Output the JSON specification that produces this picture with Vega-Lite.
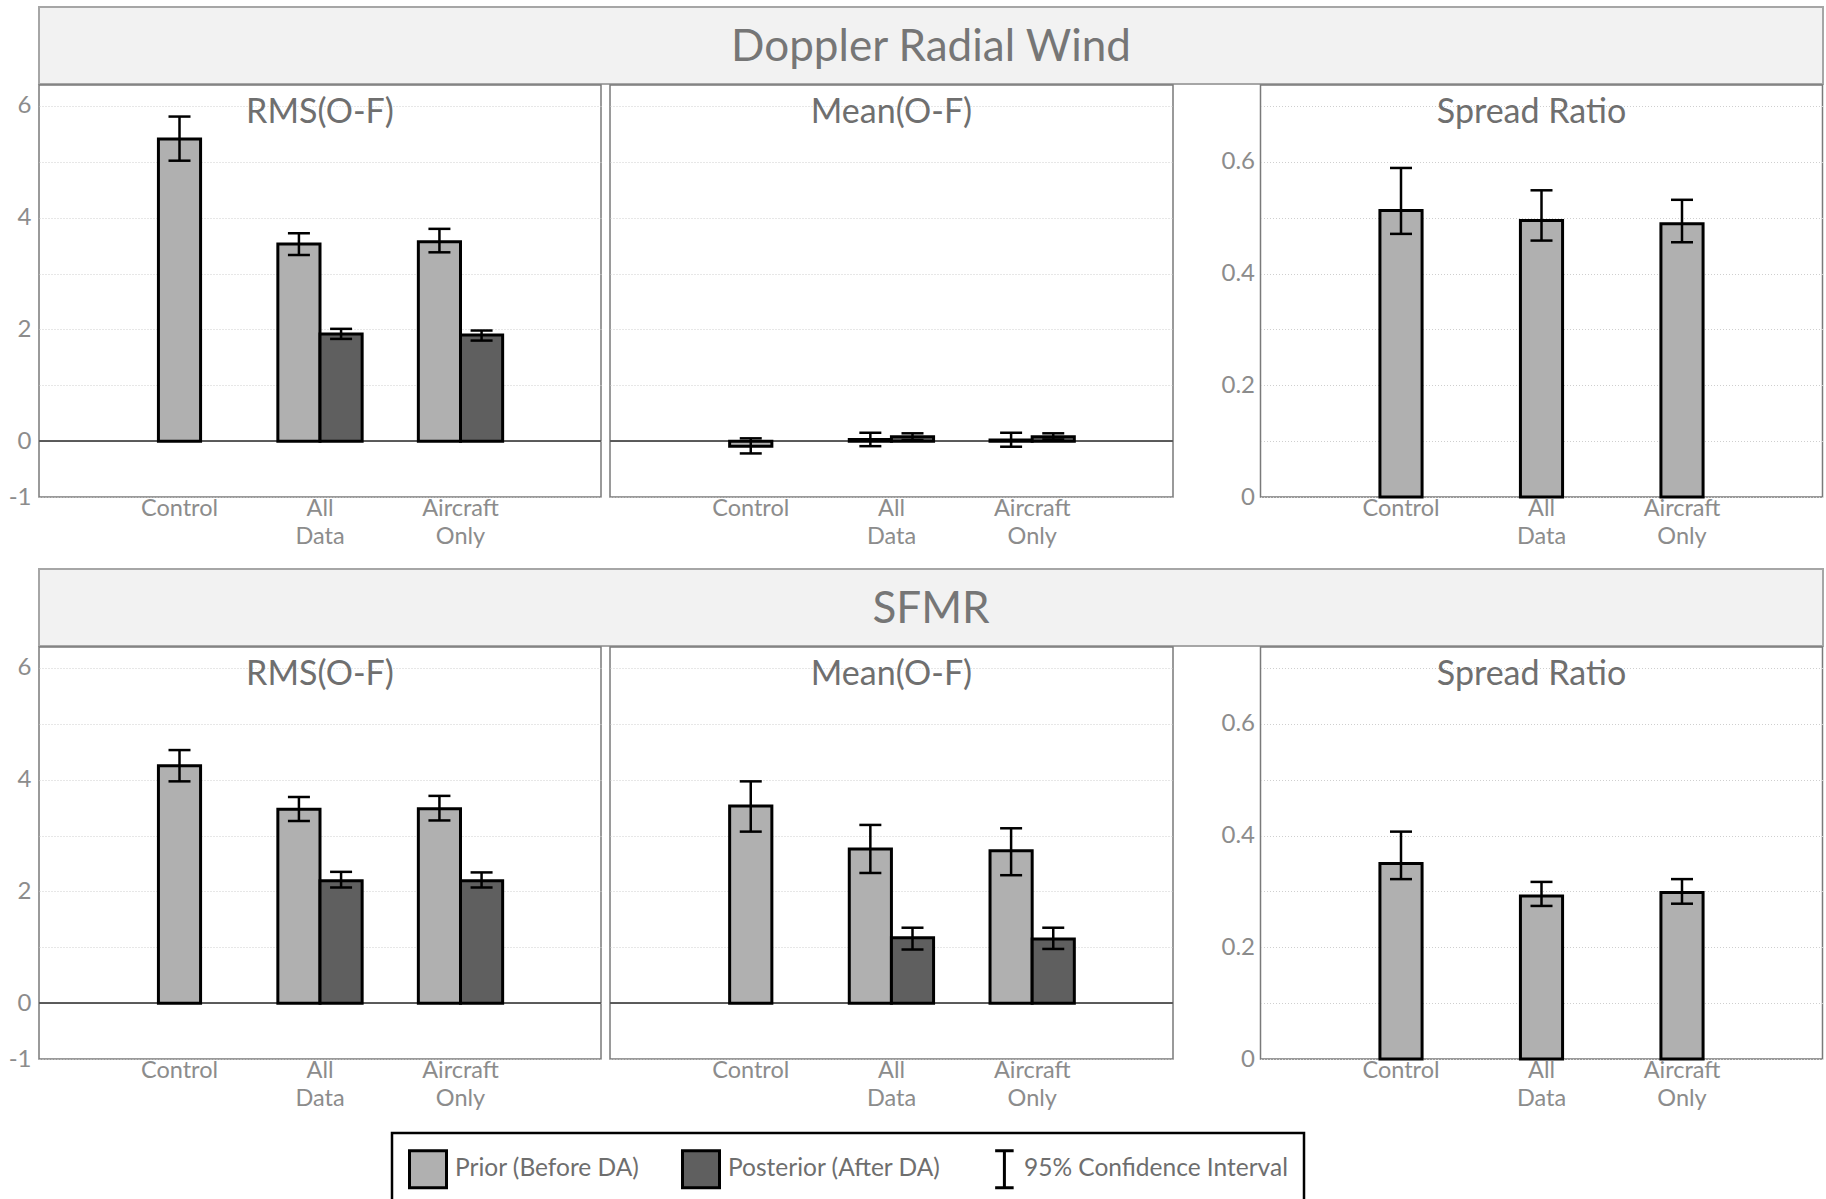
{
  "$schema": "https://vega.github.io/schema/vega-lite/v6.json",
  "padding": {"left": 4, "top": 6, "right": 0, "bottom": 0},
  "spacing": 10,
  "datasets": {
    "stats": [
      {"obs": "Doppler Radial Wind", "metric": "RMS(O-F)", "exp": "Control", "state": "Prior (Before DA)", "value": 5.41, "lo": 5.02, "hi": 5.81},
      {"obs": "Doppler Radial Wind", "metric": "RMS(O-F)", "exp": "All Data", "state": "Prior (Before DA)", "value": 3.53, "lo": 3.33, "hi": 3.72},
      {"obs": "Doppler Radial Wind", "metric": "RMS(O-F)", "exp": "All Data", "state": "Posterior (After DA)", "value": 1.92, "lo": 1.83, "hi": 2.01},
      {"obs": "Doppler Radial Wind", "metric": "RMS(O-F)", "exp": "Aircraft Only", "state": "Prior (Before DA)", "value": 3.57, "lo": 3.38, "hi": 3.80},
      {"obs": "Doppler Radial Wind", "metric": "RMS(O-F)", "exp": "Aircraft Only", "state": "Posterior (After DA)", "value": 1.90, "lo": 1.80, "hi": 1.98},
      {"obs": "Doppler Radial Wind", "metric": "Mean(O-F)", "exp": "Control", "state": "Prior (Before DA)", "value": -0.09, "lo": -0.22, "hi": 0.05},
      {"obs": "Doppler Radial Wind", "metric": "Mean(O-F)", "exp": "All Data", "state": "Prior (Before DA)", "value": 0.03, "lo": -0.09, "hi": 0.15},
      {"obs": "Doppler Radial Wind", "metric": "Mean(O-F)", "exp": "All Data", "state": "Posterior (After DA)", "value": 0.08, "lo": 0.02, "hi": 0.14},
      {"obs": "Doppler Radial Wind", "metric": "Mean(O-F)", "exp": "Aircraft Only", "state": "Prior (Before DA)", "value": 0.02, "lo": -0.10, "hi": 0.15},
      {"obs": "Doppler Radial Wind", "metric": "Mean(O-F)", "exp": "Aircraft Only", "state": "Posterior (After DA)", "value": 0.08, "lo": 0.03, "hi": 0.14},
      {"obs": "Doppler Radial Wind", "metric": "Spread Ratio", "exp": "Control", "state": "Prior (Before DA)", "value": 0.513, "lo": 0.471, "hi": 0.589},
      {"obs": "Doppler Radial Wind", "metric": "Spread Ratio", "exp": "All Data", "state": "Prior (Before DA)", "value": 0.495, "lo": 0.459, "hi": 0.549},
      {"obs": "Doppler Radial Wind", "metric": "Spread Ratio", "exp": "Aircraft Only", "state": "Prior (Before DA)", "value": 0.489, "lo": 0.456, "hi": 0.532},
      {"obs": "SFMR", "metric": "RMS(O-F)", "exp": "Control", "state": "Prior (Before DA)", "value": 4.25, "lo": 3.97, "hi": 4.53},
      {"obs": "SFMR", "metric": "RMS(O-F)", "exp": "All Data", "state": "Prior (Before DA)", "value": 3.47, "lo": 3.26, "hi": 3.69},
      {"obs": "SFMR", "metric": "RMS(O-F)", "exp": "All Data", "state": "Posterior (After DA)", "value": 2.19, "lo": 2.07, "hi": 2.35},
      {"obs": "SFMR", "metric": "RMS(O-F)", "exp": "Aircraft Only", "state": "Prior (Before DA)", "value": 3.48, "lo": 3.27, "hi": 3.71},
      {"obs": "SFMR", "metric": "RMS(O-F)", "exp": "Aircraft Only", "state": "Posterior (After DA)", "value": 2.19, "lo": 2.07, "hi": 2.34},
      {"obs": "SFMR", "metric": "Mean(O-F)", "exp": "Control", "state": "Prior (Before DA)", "value": 3.53, "lo": 3.07, "hi": 3.97},
      {"obs": "SFMR", "metric": "Mean(O-F)", "exp": "All Data", "state": "Prior (Before DA)", "value": 2.76, "lo": 2.33, "hi": 3.19},
      {"obs": "SFMR", "metric": "Mean(O-F)", "exp": "All Data", "state": "Posterior (After DA)", "value": 1.17, "lo": 0.96, "hi": 1.35},
      {"obs": "SFMR", "metric": "Mean(O-F)", "exp": "Aircraft Only", "state": "Prior (Before DA)", "value": 2.73, "lo": 2.29, "hi": 3.13},
      {"obs": "SFMR", "metric": "Mean(O-F)", "exp": "Aircraft Only", "state": "Posterior (After DA)", "value": 1.15, "lo": 0.97, "hi": 1.35},
      {"obs": "SFMR", "metric": "Spread Ratio", "exp": "Control", "state": "Prior (Before DA)", "value": 0.350, "lo": 0.322, "hi": 0.407},
      {"obs": "SFMR", "metric": "Spread Ratio", "exp": "All Data", "state": "Prior (Before DA)", "value": 0.292, "lo": 0.274, "hi": 0.317},
      {"obs": "SFMR", "metric": "Spread Ratio", "exp": "Aircraft Only", "state": "Prior (Before DA)", "value": 0.298, "lo": 0.278, "hi": 0.322}
    ]
  },
  "vconcat": [
    {
      "spacing": -1,
      "vconcat": [
        {
          "width": 1784, "height": 77,
          "view": {"fill": "#f2f2f2", "stroke": "#a6a6a6", "strokeWidth": 2},
          "data": {"values": [{"obs": "Doppler Radial Wind"}]},
          "layer": [
            {"mark": {"type": "rule", "opacity": 0},
             "encoding": {"y": {"datum": 0, "type": "quantitative", "title": null,
               "axis": {"labels": false, "grid": false, "domain": true, "domainOpacity": 0, "minExtent": 34, "maxExtent": 34}}}},
            {"mark": {"type": "text", "font": "Lato", "fontSize": 44, "color": "#767676", "baseline": "middle", "dy": 2},
             "encoding": {"text": {"field": "obs"}}}
          ]
        },
        {
          "spacing": 34.5,
          "hconcat": [
            {
              "spacing": 5,
              "hconcat": [
                {
                  "width": 562, "height": 412,
                  "view": {"stroke": "#7a7a7a", "strokeWidth": 1.5},
                  "title": "RMS(O-F)",
                  "data": {"name": "stats"},
                  "transform": [{"filter": "datum.obs === 'Doppler Radial Wind' && datum.metric === 'RMS(O-F)'"}],
                  "layer": [
                    {"mark": {"type": "rule", "color": "#595959", "strokeWidth": 1.5},
                     "encoding": {"y": {"datum": 0, "type": "quantitative", "title": null, "scale": {"domain": [-1, 6.375], "nice": false, "zero": false},
                       "axis": {"values": [-1, 0, 1, 2, 3, 4, 5, 6], "labelExpr": "datum.value === -1 ? '-1' : (datum.value % 2 === 0 ? format(datum.value, 'd') : '')", "grid": true, "labelPadding": 8, "labelOverlap": false, "minExtent": 34, "maxExtent": 34}}}},
                    {"transform": [{"filter": "datum.exp !== 'Control'"}],
                     "mark": {"type": "bar", "stroke": "black", "strokeWidth": 3},
                     "encoding": {
                       "x": {"field": "exp", "type": "nominal", "title": null, "scale": {"domain": ["Control", "All Data", "Aircraft Only"], "paddingInner": 0.4, "paddingOuter": 0.7},
                         "axis": {"labelExpr": "split(datum.label, ' ')", "labelFontSize": 23.5, "labelLineHeight": 28.5, "labelPadding": -1, "labelAngle": 0, "labelOverlap": false, "minExtent": 60, "maxExtent": 60}},
                       "xOffset": {"field": "state", "type": "nominal", "scale": {"domain": ["Prior (Before DA)", "Posterior (After DA)"]}},
                       "y": {"field": "value", "type": "quantitative", "stack": null, "title": null, "scale": {"domain": [-1, 6.375], "nice": false, "zero": false}},
                       "fill": {"field": "state", "type": "nominal", "title": null,
                         "scale": {"domain": ["Prior (Before DA)", "Posterior (After DA)", "95% Confidence Interval"], "range": ["#b0b0b0", "#5f5f5f", "transparent"]},
                         "legend": {"orient": "none", "legendX": 353, "legendY": 1126, "direction": "horizontal", "title": null,
                           "strokeColor": "black", "padding": 16,
                           "symbolType": "square", "symbolSize": 1369, "symbolStrokeColor": "black", "symbolStrokeWidth": 3, "symbolOpacity": 1,
                           "labelFont": "Lato", "labelFontSize": 24.5, "labelColor": "#6e6e6e", "labelOffset": 7, "columnPadding": 36, "labelLimit": 500,
                           "encode": {
                             "legend": {"update": {"strokeWidth": {"value": 2.5}}},
                             "symbols": {"update": {"shape": {"signal": "datum.value === '95% Confidence Interval' ? 'M-0.1,-1H0.9M0.4,-1V1M-0.1,1H0.9' : 'square'"}}}}}}
                     }},
                    {"transform": [{"filter": "datum.exp === 'Control'"}],
                     "mark": {"type": "bar", "stroke": "black", "strokeWidth": 3, "width": {"band": 0.5}},
                     "encoding": {
                       "x": {"field": "exp", "type": "nominal", "title": null, "scale": {"domain": ["Control", "All Data", "Aircraft Only"], "paddingInner": 0.4, "paddingOuter": 0.7}},
                       "y": {"field": "value", "type": "quantitative", "stack": null, "title": null, "scale": {"domain": [-1, 6.375], "nice": false, "zero": false}},
                       "fill": {"field": "state", "type": "nominal", "title": null, "legend": null,
                         "scale": {"domain": ["Prior (Before DA)", "Posterior (After DA)", "95% Confidence Interval"], "range": ["#b0b0b0", "#5f5f5f", "transparent"]}}
                     }},
                    {"transform": [{"filter": "datum.exp !== 'Control'"}],
                     "mark": {"type": "rule", "color": "black", "strokeWidth": 2.5},
                     "encoding": {
                       "x": {"field": "exp", "type": "nominal", "title": null, "scale": {"domain": ["Control", "All Data", "Aircraft Only"], "paddingInner": 0.4, "paddingOuter": 0.7}},
                       "xOffset": {"field": "state", "type": "nominal", "scale": {"domain": ["Prior (Before DA)", "Posterior (After DA)"]}},
                       "y": {"field": "lo", "type": "quantitative", "title": null, "scale": {"domain": [-1, 6.375], "nice": false, "zero": false}},
                       "y2": {"field": "hi"}
                     }},
                    {"transform": [{"filter": "datum.exp === 'Control'"}],
                     "mark": {"type": "rule", "color": "black", "strokeWidth": 2.5},
                     "encoding": {
                       "x": {"field": "exp", "type": "nominal", "title": null, "scale": {"domain": ["Control", "All Data", "Aircraft Only"], "paddingInner": 0.4, "paddingOuter": 0.7}},
                       "y": {"field": "lo", "type": "quantitative", "title": null, "scale": {"domain": [-1, 6.375], "nice": false, "zero": false}},
                       "y2": {"field": "hi"}
                     }},
                    {"transform": [{"filter": "datum.exp !== 'Control'"}, {"fold": ["lo", "hi"], "as": ["end", "ci"]}],
                     "mark": {"type": "tick", "color": "black", "thickness": 2.5, "size": 22, "opacity": 1},
                     "encoding": {
                       "x": {"field": "exp", "type": "nominal", "title": null, "scale": {"domain": ["Control", "All Data", "Aircraft Only"], "paddingInner": 0.4, "paddingOuter": 0.7}},
                       "xOffset": {"field": "state", "type": "nominal", "scale": {"domain": ["Prior (Before DA)", "Posterior (After DA)"]}},
                       "y": {"field": "ci", "type": "quantitative", "title": null, "scale": {"domain": [-1, 6.375], "nice": false, "zero": false}}
                     }},
                    {"transform": [{"filter": "datum.exp === 'Control'"}, {"fold": ["lo", "hi"], "as": ["end", "ci"]}],
                     "mark": {"type": "tick", "color": "black", "thickness": 2.5, "size": 22, "opacity": 1},
                     "encoding": {
                       "x": {"field": "exp", "type": "nominal", "title": null, "scale": {"domain": ["Control", "All Data", "Aircraft Only"], "paddingInner": 0.4, "paddingOuter": 0.7}},
                       "y": {"field": "ci", "type": "quantitative", "title": null, "scale": {"domain": [-1, 6.375], "nice": false, "zero": false}}
                     }}
                  ]
                },
                {
                  "width": 563, "height": 412,
                  "view": {"stroke": "#7a7a7a", "strokeWidth": 1.5},
                  "title": "Mean(O-F)",
                  "data": {"name": "stats"},
                  "transform": [{"filter": "datum.obs === 'Doppler Radial Wind' && datum.metric === 'Mean(O-F)'"}],
                  "layer": [
                    {"mark": {"type": "rule", "color": "#595959", "strokeWidth": 1.5},
                     "encoding": {"y": {"datum": 0, "type": "quantitative", "title": null, "scale": {"domain": [-1, 6.375], "nice": false, "zero": false},
                       "axis": {"values": [-1, 0, 1, 2, 3, 4, 5, 6], "labels": false, "grid": true, "minExtent": 0, "maxExtent": 0}}}},
                    {"transform": [{"filter": "datum.exp !== 'Control'"}],
                     "mark": {"type": "bar", "stroke": "black", "strokeWidth": 3},
                     "encoding": {
                       "x": {"field": "exp", "type": "nominal", "title": null, "scale": {"domain": ["Control", "All Data", "Aircraft Only"], "paddingInner": 0.4, "paddingOuter": 0.7},
                         "axis": {"labelExpr": "split(datum.label, ' ')", "labelFontSize": 23.5, "labelLineHeight": 28.5, "labelPadding": -1, "labelAngle": 0, "labelOverlap": false, "minExtent": 60, "maxExtent": 60}},
                       "xOffset": {"field": "state", "type": "nominal", "scale": {"domain": ["Prior (Before DA)", "Posterior (After DA)"]}},
                       "y": {"field": "value", "type": "quantitative", "stack": null, "title": null, "scale": {"domain": [-1, 6.375], "nice": false, "zero": false}},
                       "fill": {"field": "state", "type": "nominal", "title": null, "legend": null,
                         "scale": {"domain": ["Prior (Before DA)", "Posterior (After DA)", "95% Confidence Interval"], "range": ["#b0b0b0", "#5f5f5f", "transparent"]}}
                     }},
                    {"transform": [{"filter": "datum.exp === 'Control'"}],
                     "mark": {"type": "bar", "stroke": "black", "strokeWidth": 3, "width": {"band": 0.5}},
                     "encoding": {
                       "x": {"field": "exp", "type": "nominal", "title": null, "scale": {"domain": ["Control", "All Data", "Aircraft Only"], "paddingInner": 0.4, "paddingOuter": 0.7}},
                       "y": {"field": "value", "type": "quantitative", "stack": null, "title": null, "scale": {"domain": [-1, 6.375], "nice": false, "zero": false}},
                       "fill": {"field": "state", "type": "nominal", "title": null, "legend": null,
                         "scale": {"domain": ["Prior (Before DA)", "Posterior (After DA)", "95% Confidence Interval"], "range": ["#b0b0b0", "#5f5f5f", "transparent"]}}
                     }},
                    {"transform": [{"filter": "datum.exp !== 'Control'"}],
                     "mark": {"type": "rule", "color": "black", "strokeWidth": 2.5},
                     "encoding": {
                       "x": {"field": "exp", "type": "nominal", "title": null, "scale": {"domain": ["Control", "All Data", "Aircraft Only"], "paddingInner": 0.4, "paddingOuter": 0.7}},
                       "xOffset": {"field": "state", "type": "nominal", "scale": {"domain": ["Prior (Before DA)", "Posterior (After DA)"]}},
                       "y": {"field": "lo", "type": "quantitative", "title": null, "scale": {"domain": [-1, 6.375], "nice": false, "zero": false}},
                       "y2": {"field": "hi"}
                     }},
                    {"transform": [{"filter": "datum.exp === 'Control'"}],
                     "mark": {"type": "rule", "color": "black", "strokeWidth": 2.5},
                     "encoding": {
                       "x": {"field": "exp", "type": "nominal", "title": null, "scale": {"domain": ["Control", "All Data", "Aircraft Only"], "paddingInner": 0.4, "paddingOuter": 0.7}},
                       "y": {"field": "lo", "type": "quantitative", "title": null, "scale": {"domain": [-1, 6.375], "nice": false, "zero": false}},
                       "y2": {"field": "hi"}
                     }},
                    {"transform": [{"filter": "datum.exp !== 'Control'"}, {"fold": ["lo", "hi"], "as": ["end", "ci"]}],
                     "mark": {"type": "tick", "color": "black", "thickness": 2.5, "size": 22, "opacity": 1},
                     "encoding": {
                       "x": {"field": "exp", "type": "nominal", "title": null, "scale": {"domain": ["Control", "All Data", "Aircraft Only"], "paddingInner": 0.4, "paddingOuter": 0.7}},
                       "xOffset": {"field": "state", "type": "nominal", "scale": {"domain": ["Prior (Before DA)", "Posterior (After DA)"]}},
                       "y": {"field": "ci", "type": "quantitative", "title": null, "scale": {"domain": [-1, 6.375], "nice": false, "zero": false}}
                     }},
                    {"transform": [{"filter": "datum.exp === 'Control'"}, {"fold": ["lo", "hi"], "as": ["end", "ci"]}],
                     "mark": {"type": "tick", "color": "black", "thickness": 2.5, "size": 22, "opacity": 1},
                     "encoding": {
                       "x": {"field": "exp", "type": "nominal", "title": null, "scale": {"domain": ["Control", "All Data", "Aircraft Only"], "paddingInner": 0.4, "paddingOuter": 0.7}},
                       "y": {"field": "ci", "type": "quantitative", "title": null, "scale": {"domain": [-1, 6.375], "nice": false, "zero": false}}
                     }}
                  ]
                }
              ]
            },
            {
              "width": 562, "height": 412,
              "view": {"stroke": "#7a7a7a", "strokeWidth": 1.5},
              "title": {"text": "Spread Ratio", "dx": -10},
              "data": {"name": "stats"},
              "transform": [{"filter": "datum.obs === 'Doppler Radial Wind' && datum.metric === 'Spread Ratio'"}],
              "layer": [
                {"mark": {"type": "bar", "stroke": "black", "strokeWidth": 3, "width": {"band": 0.5}},
                 "encoding": {
                   "x": {"field": "exp", "type": "nominal", "title": null, "scale": {"domain": ["Control", "All Data", "Aircraft Only"], "paddingInner": 0.4, "paddingOuter": 0.7},
                     "axis": {"labelExpr": "split(datum.label, ' ')", "labelFontSize": 23.5, "labelLineHeight": 28.5, "labelPadding": -1, "labelAngle": 0, "labelOverlap": false, "minExtent": 60, "maxExtent": 60}},
                   "y": {"field": "value", "type": "quantitative", "stack": null, "title": null, "scale": {"domain": [0, 0.7375], "nice": false, "zero": false},
                     "axis": {"values": [0, 0.1, 0.2, 0.3, 0.4, 0.5, 0.6, 0.7], "format": "~g", "labelExpr": "(round(datum.value * 10) % 2 === 0) ? datum.label : ''", "grid": true, "labelPadding": 6, "labelOverlap": false, "minExtent": 50, "maxExtent": 50}},
                   "fill": {"field": "state", "type": "nominal", "title": null, "legend": null,
                     "scale": {"domain": ["Prior (Before DA)", "Posterior (After DA)", "95% Confidence Interval"], "range": ["#b0b0b0", "#5f5f5f", "transparent"]}}
                 }},
                {"mark": {"type": "rule", "color": "black", "strokeWidth": 2.5},
                 "encoding": {
                   "x": {"field": "exp", "type": "nominal", "title": null, "scale": {"domain": ["Control", "All Data", "Aircraft Only"], "paddingInner": 0.4, "paddingOuter": 0.7}},
                   "y": {"field": "lo", "type": "quantitative", "title": null, "scale": {"domain": [0, 0.7375], "nice": false, "zero": false}},
                   "y2": {"field": "hi"}
                 }},
                {"transform": [{"fold": ["lo", "hi"], "as": ["end", "ci"]}],
                 "mark": {"type": "tick", "color": "black", "thickness": 2.5, "size": 22, "opacity": 1},
                 "encoding": {
                   "x": {"field": "exp", "type": "nominal", "title": null, "scale": {"domain": ["Control", "All Data", "Aircraft Only"], "paddingInner": 0.4, "paddingOuter": 0.7}},
                   "y": {"field": "ci", "type": "quantitative", "title": null, "scale": {"domain": [0, 0.7375], "nice": false, "zero": false}}
                 }}
              ]
            }
          ]
        }
      ]
    },
    {
      "spacing": -1,
      "vconcat": [
        {
          "width": 1784, "height": 77,
          "view": {"fill": "#f2f2f2", "stroke": "#a6a6a6", "strokeWidth": 2},
          "data": {"values": [{"obs": "SFMR"}]},
          "layer": [
            {"mark": {"type": "rule", "opacity": 0},
             "encoding": {"y": {"datum": 0, "type": "quantitative", "title": null,
               "axis": {"labels": false, "grid": false, "domain": true, "domainOpacity": 0, "minExtent": 34, "maxExtent": 34}}}},
            {"mark": {"type": "text", "font": "Lato", "fontSize": 44, "color": "#767676", "baseline": "middle", "dy": 2},
             "encoding": {"text": {"field": "obs"}}}
          ]
        },
        {
          "spacing": 34.5,
          "hconcat": [
            {
              "spacing": 5,
              "hconcat": [
                {
                  "width": 562, "height": 412,
                  "view": {"stroke": "#7a7a7a", "strokeWidth": 1.5},
                  "title": "RMS(O-F)",
                  "data": {"name": "stats"},
                  "transform": [{"filter": "datum.obs === 'SFMR' && datum.metric === 'RMS(O-F)'"}],
                  "layer": [
                    {"mark": {"type": "rule", "color": "#595959", "strokeWidth": 1.5},
                     "encoding": {"y": {"datum": 0, "type": "quantitative", "title": null, "scale": {"domain": [-1, 6.375], "nice": false, "zero": false},
                       "axis": {"values": [-1, 0, 1, 2, 3, 4, 5, 6], "labelExpr": "datum.value === -1 ? '-1' : (datum.value % 2 === 0 ? format(datum.value, 'd') : '')", "grid": true, "labelPadding": 8, "labelOverlap": false, "minExtent": 34, "maxExtent": 34}}}},
                    {"transform": [{"filter": "datum.exp !== 'Control'"}],
                     "mark": {"type": "bar", "stroke": "black", "strokeWidth": 3},
                     "encoding": {
                       "x": {"field": "exp", "type": "nominal", "title": null, "scale": {"domain": ["Control", "All Data", "Aircraft Only"], "paddingInner": 0.4, "paddingOuter": 0.7},
                         "axis": {"labelExpr": "split(datum.label, ' ')", "labelFontSize": 23.5, "labelLineHeight": 28.5, "labelPadding": -1, "labelAngle": 0, "labelOverlap": false, "minExtent": 60, "maxExtent": 60}},
                       "xOffset": {"field": "state", "type": "nominal", "scale": {"domain": ["Prior (Before DA)", "Posterior (After DA)"]}},
                       "y": {"field": "value", "type": "quantitative", "stack": null, "title": null, "scale": {"domain": [-1, 6.375], "nice": false, "zero": false}},
                       "fill": {"field": "state", "type": "nominal", "title": null, "legend": null,
                         "scale": {"domain": ["Prior (Before DA)", "Posterior (After DA)", "95% Confidence Interval"], "range": ["#b0b0b0", "#5f5f5f", "transparent"]}}
                     }},
                    {"transform": [{"filter": "datum.exp === 'Control'"}],
                     "mark": {"type": "bar", "stroke": "black", "strokeWidth": 3, "width": {"band": 0.5}},
                     "encoding": {
                       "x": {"field": "exp", "type": "nominal", "title": null, "scale": {"domain": ["Control", "All Data", "Aircraft Only"], "paddingInner": 0.4, "paddingOuter": 0.7}},
                       "y": {"field": "value", "type": "quantitative", "stack": null, "title": null, "scale": {"domain": [-1, 6.375], "nice": false, "zero": false}},
                       "fill": {"field": "state", "type": "nominal", "title": null, "legend": null,
                         "scale": {"domain": ["Prior (Before DA)", "Posterior (After DA)", "95% Confidence Interval"], "range": ["#b0b0b0", "#5f5f5f", "transparent"]}}
                     }},
                    {"transform": [{"filter": "datum.exp !== 'Control'"}],
                     "mark": {"type": "rule", "color": "black", "strokeWidth": 2.5},
                     "encoding": {
                       "x": {"field": "exp", "type": "nominal", "title": null, "scale": {"domain": ["Control", "All Data", "Aircraft Only"], "paddingInner": 0.4, "paddingOuter": 0.7}},
                       "xOffset": {"field": "state", "type": "nominal", "scale": {"domain": ["Prior (Before DA)", "Posterior (After DA)"]}},
                       "y": {"field": "lo", "type": "quantitative", "title": null, "scale": {"domain": [-1, 6.375], "nice": false, "zero": false}},
                       "y2": {"field": "hi"}
                     }},
                    {"transform": [{"filter": "datum.exp === 'Control'"}],
                     "mark": {"type": "rule", "color": "black", "strokeWidth": 2.5},
                     "encoding": {
                       "x": {"field": "exp", "type": "nominal", "title": null, "scale": {"domain": ["Control", "All Data", "Aircraft Only"], "paddingInner": 0.4, "paddingOuter": 0.7}},
                       "y": {"field": "lo", "type": "quantitative", "title": null, "scale": {"domain": [-1, 6.375], "nice": false, "zero": false}},
                       "y2": {"field": "hi"}
                     }},
                    {"transform": [{"filter": "datum.exp !== 'Control'"}, {"fold": ["lo", "hi"], "as": ["end", "ci"]}],
                     "mark": {"type": "tick", "color": "black", "thickness": 2.5, "size": 22, "opacity": 1},
                     "encoding": {
                       "x": {"field": "exp", "type": "nominal", "title": null, "scale": {"domain": ["Control", "All Data", "Aircraft Only"], "paddingInner": 0.4, "paddingOuter": 0.7}},
                       "xOffset": {"field": "state", "type": "nominal", "scale": {"domain": ["Prior (Before DA)", "Posterior (After DA)"]}},
                       "y": {"field": "ci", "type": "quantitative", "title": null, "scale": {"domain": [-1, 6.375], "nice": false, "zero": false}}
                     }},
                    {"transform": [{"filter": "datum.exp === 'Control'"}, {"fold": ["lo", "hi"], "as": ["end", "ci"]}],
                     "mark": {"type": "tick", "color": "black", "thickness": 2.5, "size": 22, "opacity": 1},
                     "encoding": {
                       "x": {"field": "exp", "type": "nominal", "title": null, "scale": {"domain": ["Control", "All Data", "Aircraft Only"], "paddingInner": 0.4, "paddingOuter": 0.7}},
                       "y": {"field": "ci", "type": "quantitative", "title": null, "scale": {"domain": [-1, 6.375], "nice": false, "zero": false}}
                     }}
                  ]
                },
                {
                  "width": 563, "height": 412,
                  "view": {"stroke": "#7a7a7a", "strokeWidth": 1.5},
                  "title": "Mean(O-F)",
                  "data": {"name": "stats"},
                  "transform": [{"filter": "datum.obs === 'SFMR' && datum.metric === 'Mean(O-F)'"}],
                  "layer": [
                    {"mark": {"type": "rule", "color": "#595959", "strokeWidth": 1.5},
                     "encoding": {"y": {"datum": 0, "type": "quantitative", "title": null, "scale": {"domain": [-1, 6.375], "nice": false, "zero": false},
                       "axis": {"values": [-1, 0, 1, 2, 3, 4, 5, 6], "labels": false, "grid": true, "minExtent": 0, "maxExtent": 0}}}},
                    {"transform": [{"filter": "datum.exp !== 'Control'"}],
                     "mark": {"type": "bar", "stroke": "black", "strokeWidth": 3},
                     "encoding": {
                       "x": {"field": "exp", "type": "nominal", "title": null, "scale": {"domain": ["Control", "All Data", "Aircraft Only"], "paddingInner": 0.4, "paddingOuter": 0.7},
                         "axis": {"labelExpr": "split(datum.label, ' ')", "labelFontSize": 23.5, "labelLineHeight": 28.5, "labelPadding": -1, "labelAngle": 0, "labelOverlap": false, "minExtent": 60, "maxExtent": 60}},
                       "xOffset": {"field": "state", "type": "nominal", "scale": {"domain": ["Prior (Before DA)", "Posterior (After DA)"]}},
                       "y": {"field": "value", "type": "quantitative", "stack": null, "title": null, "scale": {"domain": [-1, 6.375], "nice": false, "zero": false}},
                       "fill": {"field": "state", "type": "nominal", "title": null, "legend": null,
                         "scale": {"domain": ["Prior (Before DA)", "Posterior (After DA)", "95% Confidence Interval"], "range": ["#b0b0b0", "#5f5f5f", "transparent"]}}
                     }},
                    {"transform": [{"filter": "datum.exp === 'Control'"}],
                     "mark": {"type": "bar", "stroke": "black", "strokeWidth": 3, "width": {"band": 0.5}},
                     "encoding": {
                       "x": {"field": "exp", "type": "nominal", "title": null, "scale": {"domain": ["Control", "All Data", "Aircraft Only"], "paddingInner": 0.4, "paddingOuter": 0.7}},
                       "y": {"field": "value", "type": "quantitative", "stack": null, "title": null, "scale": {"domain": [-1, 6.375], "nice": false, "zero": false}},
                       "fill": {"field": "state", "type": "nominal", "title": null, "legend": null,
                         "scale": {"domain": ["Prior (Before DA)", "Posterior (After DA)", "95% Confidence Interval"], "range": ["#b0b0b0", "#5f5f5f", "transparent"]}}
                     }},
                    {"transform": [{"filter": "datum.exp !== 'Control'"}],
                     "mark": {"type": "rule", "color": "black", "strokeWidth": 2.5},
                     "encoding": {
                       "x": {"field": "exp", "type": "nominal", "title": null, "scale": {"domain": ["Control", "All Data", "Aircraft Only"], "paddingInner": 0.4, "paddingOuter": 0.7}},
                       "xOffset": {"field": "state", "type": "nominal", "scale": {"domain": ["Prior (Before DA)", "Posterior (After DA)"]}},
                       "y": {"field": "lo", "type": "quantitative", "title": null, "scale": {"domain": [-1, 6.375], "nice": false, "zero": false}},
                       "y2": {"field": "hi"}
                     }},
                    {"transform": [{"filter": "datum.exp === 'Control'"}],
                     "mark": {"type": "rule", "color": "black", "strokeWidth": 2.5},
                     "encoding": {
                       "x": {"field": "exp", "type": "nominal", "title": null, "scale": {"domain": ["Control", "All Data", "Aircraft Only"], "paddingInner": 0.4, "paddingOuter": 0.7}},
                       "y": {"field": "lo", "type": "quantitative", "title": null, "scale": {"domain": [-1, 6.375], "nice": false, "zero": false}},
                       "y2": {"field": "hi"}
                     }},
                    {"transform": [{"filter": "datum.exp !== 'Control'"}, {"fold": ["lo", "hi"], "as": ["end", "ci"]}],
                     "mark": {"type": "tick", "color": "black", "thickness": 2.5, "size": 22, "opacity": 1},
                     "encoding": {
                       "x": {"field": "exp", "type": "nominal", "title": null, "scale": {"domain": ["Control", "All Data", "Aircraft Only"], "paddingInner": 0.4, "paddingOuter": 0.7}},
                       "xOffset": {"field": "state", "type": "nominal", "scale": {"domain": ["Prior (Before DA)", "Posterior (After DA)"]}},
                       "y": {"field": "ci", "type": "quantitative", "title": null, "scale": {"domain": [-1, 6.375], "nice": false, "zero": false}}
                     }},
                    {"transform": [{"filter": "datum.exp === 'Control'"}, {"fold": ["lo", "hi"], "as": ["end", "ci"]}],
                     "mark": {"type": "tick", "color": "black", "thickness": 2.5, "size": 22, "opacity": 1},
                     "encoding": {
                       "x": {"field": "exp", "type": "nominal", "title": null, "scale": {"domain": ["Control", "All Data", "Aircraft Only"], "paddingInner": 0.4, "paddingOuter": 0.7}},
                       "y": {"field": "ci", "type": "quantitative", "title": null, "scale": {"domain": [-1, 6.375], "nice": false, "zero": false}}
                     }}
                  ]
                }
              ]
            },
            {
              "width": 562, "height": 412,
              "view": {"stroke": "#7a7a7a", "strokeWidth": 1.5},
              "title": {"text": "Spread Ratio", "dx": -10},
              "data": {"name": "stats"},
              "transform": [{"filter": "datum.obs === 'SFMR' && datum.metric === 'Spread Ratio'"}],
              "layer": [
                {"mark": {"type": "bar", "stroke": "black", "strokeWidth": 3, "width": {"band": 0.5}},
                 "encoding": {
                   "x": {"field": "exp", "type": "nominal", "title": null, "scale": {"domain": ["Control", "All Data", "Aircraft Only"], "paddingInner": 0.4, "paddingOuter": 0.7},
                     "axis": {"labelExpr": "split(datum.label, ' ')", "labelFontSize": 23.5, "labelLineHeight": 28.5, "labelPadding": -1, "labelAngle": 0, "labelOverlap": false, "minExtent": 60, "maxExtent": 60}},
                   "y": {"field": "value", "type": "quantitative", "stack": null, "title": null, "scale": {"domain": [0, 0.7375], "nice": false, "zero": false},
                     "axis": {"values": [0, 0.1, 0.2, 0.3, 0.4, 0.5, 0.6, 0.7], "format": "~g", "labelExpr": "(round(datum.value * 10) % 2 === 0) ? datum.label : ''", "grid": true, "labelPadding": 6, "labelOverlap": false, "minExtent": 50, "maxExtent": 50}},
                   "fill": {"field": "state", "type": "nominal", "title": null, "legend": null,
                     "scale": {"domain": ["Prior (Before DA)", "Posterior (After DA)", "95% Confidence Interval"], "range": ["#b0b0b0", "#5f5f5f", "transparent"]}}
                 }},
                {"mark": {"type": "rule", "color": "black", "strokeWidth": 2.5},
                 "encoding": {
                   "x": {"field": "exp", "type": "nominal", "title": null, "scale": {"domain": ["Control", "All Data", "Aircraft Only"], "paddingInner": 0.4, "paddingOuter": 0.7}},
                   "y": {"field": "lo", "type": "quantitative", "title": null, "scale": {"domain": [0, 0.7375], "nice": false, "zero": false}},
                   "y2": {"field": "hi"}
                 }},
                {"transform": [{"fold": ["lo", "hi"], "as": ["end", "ci"]}],
                 "mark": {"type": "tick", "color": "black", "thickness": 2.5, "size": 22, "opacity": 1},
                 "encoding": {
                   "x": {"field": "exp", "type": "nominal", "title": null, "scale": {"domain": ["Control", "All Data", "Aircraft Only"], "paddingInner": 0.4, "paddingOuter": 0.7}},
                   "y": {"field": "ci", "type": "quantitative", "title": null, "scale": {"domain": [0, 0.7375], "nice": false, "zero": false}}
                 }}
              ]
            }
          ]
        }
      ]
    }
  ],
  "config": {
    "font": "Lato",
    "view": {"stroke": null},
    "axis": {"domain": false, "ticks": false, "labelFont": "Lato", "labelFontSize": 24, "labelColor": "#8c8c8c", "gridColor": "#cfcfcf", "gridDash": [1, 2], "gridWidth": 1},
    "axisX": {"grid": false},
    "title": {"font": "Lato", "fontSize": 34, "fontWeight": "normal", "color": "#6f6f6f", "anchor": "middle", "offset": -45, "baseline": "alphabetic"}
  }
}
